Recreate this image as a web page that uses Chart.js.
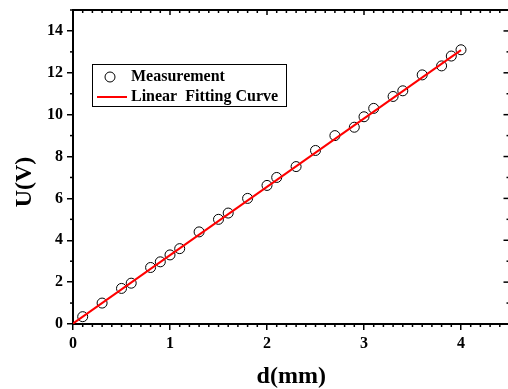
<!DOCTYPE html>
<html>
<head>
<meta charset="utf-8">
<script src="https://cdn.jsdelivr.net/npm/chart.js@4/dist/chart.umd.min.js"></script>
<style>
    body { margin: 0; overflow: hidden; background: #fff; }
    #wrap { width: 512px; height: 389px; }
</style>
</head>
<body>
<div id="wrap"><canvas id="chart" width="512" height="389"></canvas></div>
<script>
const dValues = [0.1, 0.3, 0.5, 0.6, 0.8, 0.9, 1.0, 1.1, 1.3, 1.5, 1.6, 1.8, 2.0, 2.1, 2.3, 2.5, 2.7, 2.9, 3.0, 3.1, 3.3, 3.4, 3.6, 3.8, 3.9, 4.0];
const uValues = [0.35, 1.0, 1.7, 1.95, 2.7, 2.97, 3.3, 3.6, 4.4, 5.0, 5.3, 6.0, 6.62, 7.0, 7.52, 8.29, 9.0, 9.4, 9.9, 10.3, 10.87, 11.14, 11.9, 12.33, 12.8, 13.1];
const fitX = [0, 4];
const fitY = [0.02, 13.08];
const legendLabels = ['Measurement', 'Linear  Fitting Curve'];

const serif = "'Liberation Serif', 'Times New Roman', serif";

function toPoints(xs, ys){
    return xs.map((x, i) => ({x: x, y: ys[i]}));
}

function drawTick(ctx, x1, y1, x2, y2){
    ctx.beginPath();
    ctx.moveTo(x1, y1);
    ctx.lineTo(x2, y2);
    ctx.stroke();
}

// chart.js keeps a few px of padding for end labels, drop it
function fitX_axis(scale){
    scale.height = 65;
    scale.paddingLeft = 0;
    scale.paddingRight = 0;
}

function fitY_axis(scale){
    scale.width = 73;
    scale.paddingTop = 0;
    scale.paddingBottom = 0;
}

// top/right frame, minor ticks and the legend box
const framePlugin = {
    id: 'frame',
    afterDraw(chart){
        const ctx = chart.ctx;
        const {left, top, right, bottom} = chart.chartArea;
        const xs = chart.scales.x;
        const ys = chart.scales.y;

        ctx.save();
        ctx.strokeStyle = '#000';
        ctx.lineWidth = 2;
        drawTick(ctx, left - 1, top, right + 1, top);
        drawTick(ctx, right, top, right, bottom);

        ctx.lineWidth = 1.5;
        for(let i = 0; i <= 45; i++){
            const v = i / 10;
            const px = xs.getPixelForValue(v);
            const major = i % 10 === 0;
            if(!major){
                drawTick(ctx, px, bottom, px, bottom + 3);
            }
            drawTick(ctx, px, top, px, top + (major ? 5 : 3));
        }
        for(let v = 0; v <= 15; v++){
            const py = ys.getPixelForValue(v);
            const major = v % 2 === 0;
            if(!major){
                drawTick(ctx, left, py, left - 3, py);
            }
            drawTick(ctx, right, py, right - (major ? 6 : 3), py);
        }

        // legend
        ctx.lineWidth = 1;
        ctx.strokeRect(92.5, 64.5, 194, 42);
        ctx.beginPath();
        ctx.arc(110, 77, 5, 0, 2 * Math.PI);
        ctx.stroke();
        ctx.strokeStyle = '#ff0000';
        ctx.lineWidth = 2;
        drawTick(ctx, 97, 97, 127, 97);

        ctx.fillStyle = '#000';
        ctx.font = 'bold 16px ' + serif;
        ctx.textAlign = 'left';
        ctx.textBaseline = 'middle';
        ctx.fillText(legendLabels[0], 131, 77);
        ctx.fillText(legendLabels[1], 131, 97);
        ctx.restore();
    }
};

new Chart('chart', {
    type: 'scatter',
    data: {
        datasets: [
            {
                label: legendLabels[0],
                data: toPoints(dValues, uValues),
                showLine: false,
                pointStyle: 'circle',
                pointRadius: 5,
                pointBorderWidth: 1,
                borderColor: '#000',
                backgroundColor: 'rgba(0,0,0,0)',
                order: 1
            },
            {
                label: legendLabels[1],
                data: toPoints(fitX, fitY),
                showLine: true,
                borderColor: '#ff0000',
                borderWidth: 2,
                pointRadius: 0,
                order: 0
            }
        ]
    },
    options: {
        responsive: false,
        animation: false,
        layout: {
            autoPadding: false,
            padding: {left: 0, top: 10, right: 2.5, bottom: 0}
        },
        plugins: {
            legend: {display: false},
            tooltip: {enabled: false}
        },
        scales: {
            x: {
                type: 'linear',
                min: 0,
                max: 4.5,
                afterFit: fitX_axis,
                border: {display: true, color: '#000', width: 2},
                grid: {drawOnChartArea: false, drawTicks: true, tickLength: 6, color: '#000', lineWidth: 1.5},
                ticks: {
                    stepSize: 1,
                    includeBounds: false,
                    padding: 4,
                    color: '#000',
                    font: {family: serif, size: 16, weight: 'bold'}
                },
                title: {
                    display: true,
                    text: 'd(mm)',
                    color: '#000',
                    padding: {top: 0, bottom: 0},
                    font: {family: serif, size: 24, weight: 'bold', lineHeight: 1}
                }
            },
            y: {
                type: 'linear',
                min: 0,
                max: 15,
                afterFit: fitY_axis,
                border: {display: true, color: '#000', width: 2},
                grid: {drawOnChartArea: false, drawTicks: true, tickLength: 6, color: '#000', lineWidth: 1.5},
                ticks: {
                    stepSize: 2,
                    includeBounds: false,
                    padding: 4,
                    color: '#000',
                    font: {family: serif, size: 16, weight: 'bold'}
                },
                title: {
                    display: true,
                    text: 'U(V)     ',
                    color: '#000',
                    padding: {top: 13, bottom: 0},
                    font: {family: serif, size: 24, weight: 'bold', lineHeight: 1}
                }
            }
        }
    },
    plugins: [framePlugin]
});
</script>
</body>
</html>
